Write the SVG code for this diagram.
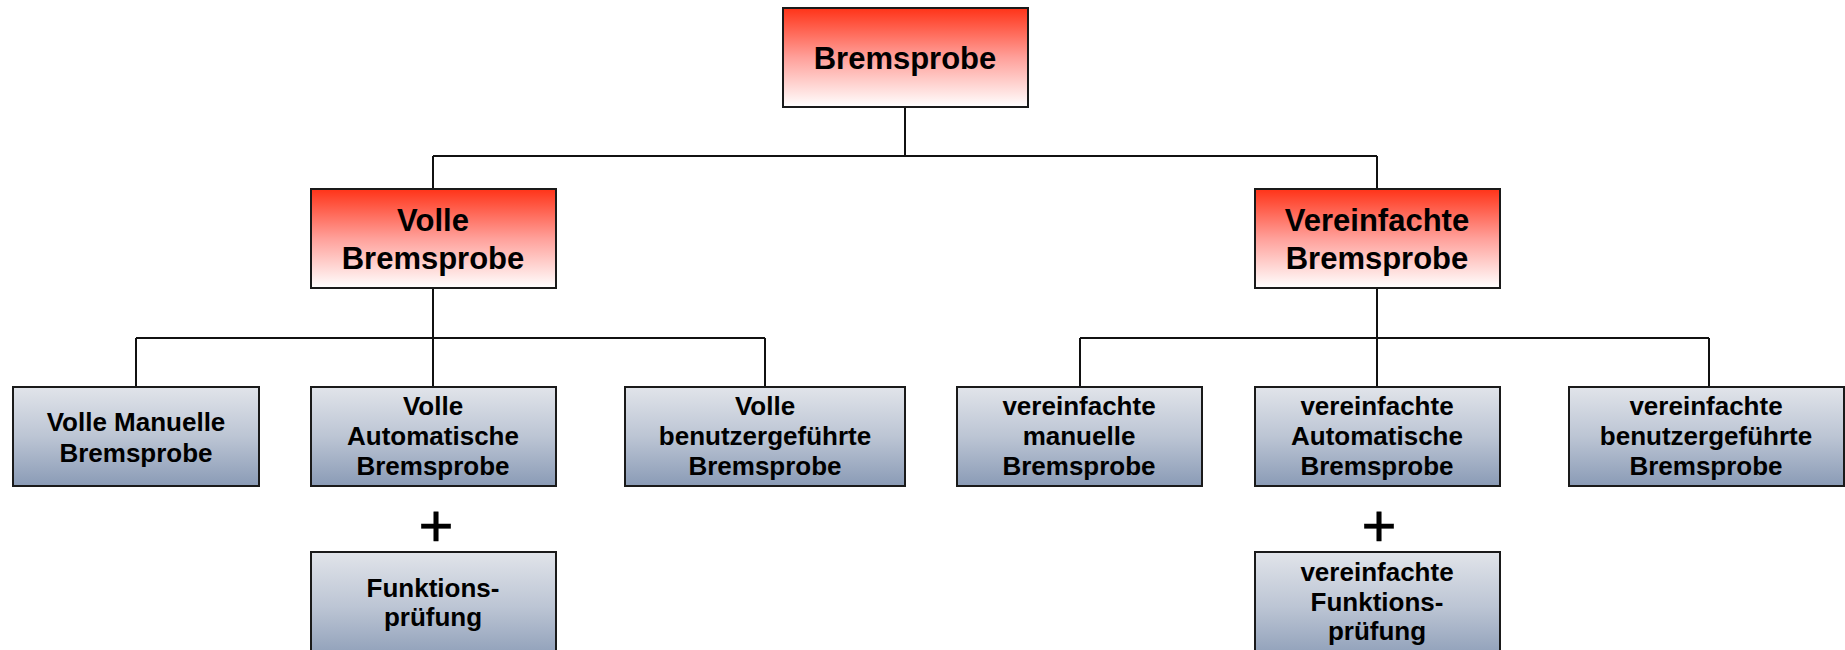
<svg xmlns="http://www.w3.org/2000/svg" width="1845" height="650" viewBox="0 0 1845 650">
<defs>
<linearGradient id="red" x1="0" y1="0" x2="0" y2="1">
<stop offset="0" stop-color="#ff3318"/>
<stop offset="0.5" stop-color="#ffa09a"/>
<stop offset="1" stop-color="#ffffff"/>
</linearGradient>
<linearGradient id="blue" x1="0" y1="0" x2="0" y2="1">
<stop offset="0" stop-color="#e1e4ea"/>
<stop offset="0.5" stop-color="#bcc5d4"/>
<stop offset="1" stop-color="#8a9bb6"/>
</linearGradient>
<style>
.r{fill:url(#red);stroke:#1a1a1a;stroke-width:2}
.b{fill:url(#blue);stroke:#1a1a1a;stroke-width:2}
.t1{font-family:"Liberation Sans",Arial,sans-serif;font-weight:bold;font-size:31px;fill:#000;text-anchor:middle}
.t2{font-family:"Liberation Sans",Arial,sans-serif;font-weight:bold;font-size:26px;fill:#000;text-anchor:middle}
.plus{font-family:"Liberation Sans",Arial,sans-serif;font-size:60px;fill:#000;stroke:#000;stroke-width:0.6;text-anchor:middle}
.c{fill:none;stroke:#111;stroke-width:2}
</style>
</defs>
<g id="connectors">
<path class="c" d="M905 107V156M433 156H1377M433 156V189M1377 156V189"/>
<path class="c" d="M433 288V338M136 338H765M136 338V387M433 338V387M765 338V387"/>
<path class="c" d="M1377 288V338M1080 338H1709M1080 338V387M1377 338V387M1709 338V387"/>
</g>
<g id="n-bremsprobe">
<rect class="r" x="783" y="8" width="245" height="99"/>
<text class="t1" x="905" y="69">Bremsprobe</text>
</g>
<g id="n-volle">
<rect class="r" x="311" y="189" width="245" height="99"/>
<text class="t1" x="433" y="231">Volle</text>
<text class="t1" x="433" y="269">Bremsprobe</text>
</g>
<g id="n-vereinfachte">
<rect class="r" x="1255" y="189" width="245" height="99"/>
<text class="t1" x="1377" y="231">Vereinfachte</text>
<text class="t1" x="1377" y="269">Bremsprobe</text>
</g>
<g id="n-volle-manuelle">
<rect class="b" x="13" y="387" width="246" height="99"/>
<text class="t2" x="136" y="431">Volle Manuelle</text>
<text class="t2" x="136" y="462">Bremsprobe</text>
</g>
<g id="n-volle-automatische">
<rect class="b" x="311" y="387" width="245" height="99"/>
<text class="t2" x="433" y="415">Volle</text>
<text class="t2" x="433" y="445">Automatische</text>
<text class="t2" x="433" y="475">Bremsprobe</text>
</g>
<g id="n-volle-benutzer">
<rect class="b" x="625" y="387" width="280" height="99"/>
<text class="t2" x="765" y="415">Volle</text>
<text class="t2" x="765" y="445">benutzergeführte</text>
<text class="t2" x="765" y="475">Bremsprobe</text>
</g>
<g id="n-vereinfachte-manuelle">
<rect class="b" x="957" y="387" width="245" height="99"/>
<text class="t2" x="1079" y="415">vereinfachte</text>
<text class="t2" x="1079" y="445">manuelle</text>
<text class="t2" x="1079" y="475">Bremsprobe</text>
</g>
<g id="n-vereinfachte-automatische">
<rect class="b" x="1255" y="387" width="245" height="99"/>
<text class="t2" x="1377" y="415">vereinfachte</text>
<text class="t2" x="1377" y="445">Automatische</text>
<text class="t2" x="1377" y="475">Bremsprobe</text>
</g>
<g id="n-vereinfachte-benutzer">
<rect class="b" x="1569" y="387" width="275" height="99"/>
<text class="t2" x="1706" y="415">vereinfachte</text>
<text class="t2" x="1706" y="445">benutzergeführte</text>
<text class="t2" x="1706" y="475">Bremsprobe</text>
</g>
<g id="plus-1"><text class="plus" x="436" y="546">+</text></g>
<g id="plus-2"><text class="plus" x="1379" y="546">+</text></g>
<g id="n-funktionspruefung">
<rect class="b" x="311" y="552" width="245" height="110"/>
<text class="t2" x="433" y="597">Funktions-</text>
<text class="t2" x="433" y="626">prüfung</text>
</g>
<g id="n-vereinfachte-funktionspruefung">
<rect class="b" x="1255" y="552" width="245" height="110"/>
<text class="t2" x="1377" y="581">vereinfachte</text>
<text class="t2" x="1377" y="611">Funktions-</text>
<text class="t2" x="1377" y="640">prüfung</text>
</g>
</svg>
